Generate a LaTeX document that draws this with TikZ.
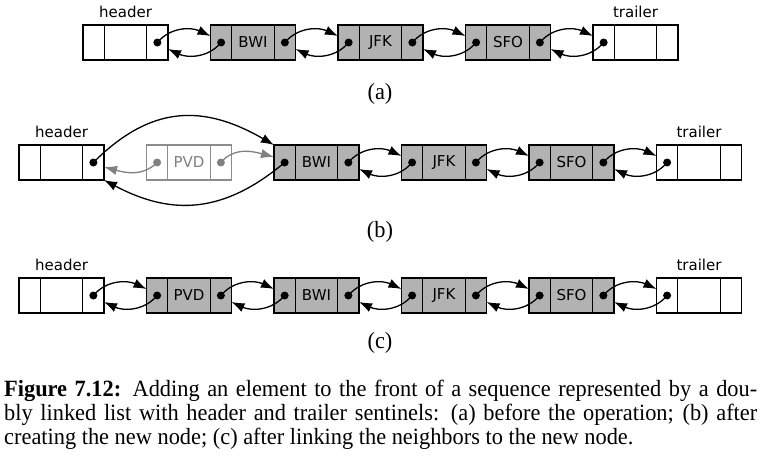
\documentclass[tikz,border=0pt]{standalone}
\usepackage{fontspec}
\usetikzlibrary{arrows.meta,positioning}
\newfontfamily\lblfont{DejaVu Sans}
\newfontfamily\capfont[FakeStretch=0.96]{Liberation Serif}
\tikzset{
  cell/.style   = {draw, line width=1.1pt, minimum width=21.25pt, minimum height=35pt,
                   inner sep=0pt, outer sep=0pt},
  wide/.style   = {cell, minimum width=42.5pt, font=\lblfont\fontsize{15}{18}\selectfont},
  elem/.style   = {fill=black!30},
  ghost/.style  = {draw=black!45, text=black!50},
  ptr/.style    = {circle, fill, inner sep=0pt, minimum size=8pt},
  link/.style   = {-{Latex[length=13pt,width=9.5pt]}, line width=1.3pt},
  next/.style   = {link, out=50, in=155},
  prev/.style   = {link, out=230, in=-25},
  sans/.style   = {font=\lblfont\fontsize{15}{18}\selectfont, inner sep=1.5pt},
  tag/.style    = {font=\capfont\fontsize{23.3}{24.4}\selectfont, inner sep=0pt},
}
% one list node: three cells, the outer two hold the links
\newcommand\listnode[4][]{%
  \node[cell, #1, anchor=west] (#2-l) at (#3) {};
  \node[wide, #1, right=0pt of #2-l] (#2-m) {#4};
  \node[cell, #1, right=0pt of #2-m] (#2-r) {};
}
% a caption line spread to the full width
\newcommand\fullline[1]{\makebox[753pt][s]{#1}}

\begin{document}
\begin{tikzpicture}[x=1pt, y=-1pt]
  \useasboundingbox (0,0) rectangle (763,458);

  % (a) before the operation
  \listnode{a0}{83,42.5}{}
  \foreach \t [count=\i] in {BWI,JFK,SFO} {
    \listnode[elem]{a\i}{83+\i*127.5,42.5}{\t}
    \node[ptr] (a\i-p) at (a\i-l) {};
    \node[ptr] (a\i-n) at (a\i-r) {};
  }
  \listnode{a4}{593,42.5}{}
  \node[ptr] (a0-n) at (a0-r) {};
  \node[ptr] (a4-p) at (a4-l) {};
  \node[sans, above=5.5pt of a0-m] (a-head) {header};
  \node[sans, above=5.5pt of a4-m] (a-tail) {trailer};
  \foreach \i [evaluate=\i as \j using int(\i+1)] in {0,...,3} {
    \draw[next] (a\i-n.center) to ([yshift=6.5pt]a\j-l.west);
    \draw[prev] (a\j-p.center) to ([yshift=-6.5pt]a\i-r.east);
  }
  \node[tag, anchor=base] (a-tag) at (380,99) {(a)};

  % (b) new node created
  \listnode{b0}{19,162.5}{}
  \listnode[ghost]{b1}{146.5,162.5}{PVD}
  \foreach \t [count=\i from 2] in {BWI,JFK,SFO} {
    \listnode[elem]{b\i}{19+\i*127.5,162.5}{\t}
    \node[ptr] (b\i-p) at (b\i-l) {};
    \node[ptr] (b\i-n) at (b\i-r) {};
  }
  \listnode{b5}{656.5,162.5}{}
  \node[ptr] (b0-n) at (b0-r) {};
  \node[ptr, fill=black!50] (b1-p) at (b1-l) {};
  \node[ptr, fill=black!50] (b1-n) at (b1-r) {};
  \node[ptr] (b5-p) at (b5-l) {};
  \node[sans, above=5.5pt of b0-m] (b-head) {header};
  \node[sans, above=5.5pt of b5-m] (b-tail) {trailer};
  \foreach \i [evaluate=\i as \j using int(\i+1)] in {2,3,4} {
    \draw[next] (b\i-n.center) to ([yshift=6.5pt]b\j-l.west);
    \draw[prev] (b\j-p.center) to ([yshift=-6.5pt]b\i-r.east);
  }
  \draw[link] (b0-n.center) to[out=45, in=150, looseness=1.15] (b2-l.north west);
  \draw[link] (b2-p.center) to[out=220, in=-28, looseness=1.1] (b0-r.south east);
  \draw[link, black!50] (b1-p.center) to[out=225, in=-15] ([yshift=-4.5pt]b0-r.east);
  \draw[link, black!50] (b1-n.center) to[out=50, in=165] ([yshift=5.5pt]b2-l.west);
  \node[tag, anchor=base] (b-tag) at (380,237) {(b)};

  % (c) neighbors linked to the new node
  \listnode{c0}{19,295.5}{}
  \foreach \t [count=\i] in {PVD,BWI,JFK,SFO} {
    \listnode[elem]{c\i}{19+\i*127.5,295.5}{\t}
    \node[ptr] (c\i-p) at (c\i-l) {};
    \node[ptr] (c\i-n) at (c\i-r) {};
  }
  \listnode{c5}{656.5,295.5}{}
  \node[ptr] (c0-n) at (c0-r) {};
  \node[ptr] (c5-p) at (c5-l) {};
  \node[sans, above=5.5pt of c0-m] (c-head) {header};
  \node[sans, above=5.5pt of c5-m] (c-tail) {trailer};
  \foreach \i [evaluate=\i as \j using int(\i+1)] in {0,...,4} {
    \draw[next] (c\i-n.center) to ([yshift=6.5pt]c\j-l.west);
    \draw[prev] (c\j-p.center) to ([yshift=-6.5pt]c\i-r.east);
  }
  \node[tag, anchor=base] (c-tag) at (380,348.5) {(c)};

  \node[tag, anchor=north west, align=left] (caption) at (4,379.5)
    {\fullline{\textbf{Figure 7.12:} Adding an element to the front of a sequence represented by a dou-}\\
     \fullline{bly linked list with header and trailer sentinels: (a) before the operation; (b) after}\\
     creating the new node; (c) after linking the neighbors to the new node.};
\end{tikzpicture}
\end{document}
